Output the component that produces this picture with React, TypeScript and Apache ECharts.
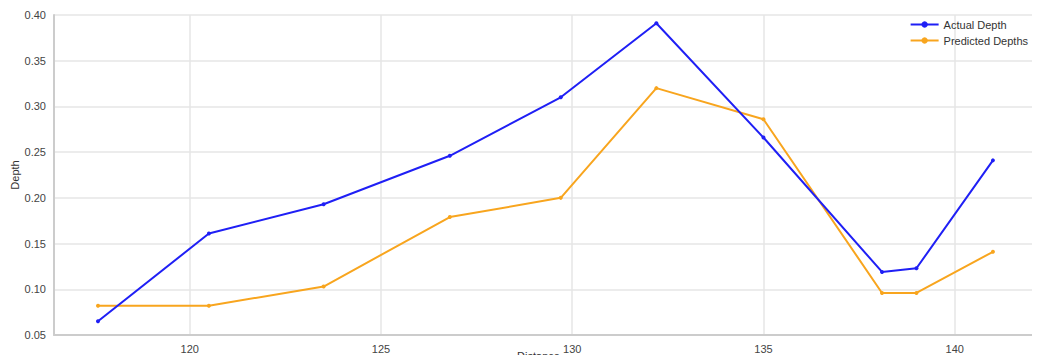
import React, { useEffect, useRef } from "react";
import * as echarts from "echarts";

const distances = [117.6, 120.5, 123.5, 126.8, 129.7, 132.2, 135.0, 138.1, 139.0, 141.0];
const actualDepth = [0.065, 0.161, 0.193, 0.246, 0.31, 0.391, 0.266, 0.119, 0.123, 0.241];
const predictedDepths = [0.082, 0.082, 0.103, 0.179, 0.2, 0.32, 0.286, 0.096, 0.096, 0.141];

const seriesNames = ["Actual Depth", "Predicted Depths"];
const seriesColors = ["#1f1ff5", "#f8a51e"];

export default function App() {
  const ref = useRef<HTMLDivElement>(null);
  useEffect(() => {
    if (!ref.current) return;
    const chart = echarts.init(ref.current, undefined, { renderer: "svg" });
    const toPairs = (ys: number[]) => distances.map((x, i) => [x, ys[i]]);
    const font = "Liberation Sans, Arial, sans-serif";
    chart.setOption({
      animation: false,
      backgroundColor: "#ffffff",
      textStyle: { fontFamily: font },
      graphic: {
        elements: [
          {
            type: "rect",
            x: 0,
            y: 3,
            shape: { x: 0, y: 0, width: 1040, height: 2 },
            style: { fill: "#8fa4c4" },
            z: 100,
          },
        ],
      },
      grid: { left: 54, right: 5, top: 15, bottom: 28, outerBoundsMode: "none", containLabel: false },
      legend: {
        orient: "vertical",
        right: 7,
        top: 14,
        itemWidth: 28,
        itemHeight: 8,
        itemGap: 5,
        textStyle: { fontSize: 11, color: "#333", fontFamily: font },
        data: seriesNames,
      },
      xAxis: {
        type: "value",
        min: 116.45,
        max: 142.1,
        splitNumber: 5,
        name: "Distance",
        nameLocation: "middle",
        nameGap: 15,
        nameMoveOverlap: false,
        nameTextStyle: { fontSize: 11, color: "#333", padding: [0, 12, 0, 0] },
        axisLine: { show: true, lineStyle: { color: "#cccccc", width: 2 } },
        axisTick: { show: false },
        axisLabel: {
          fontSize: 11,
          color: "#444",
          showMinLabel: false,
          showMaxLabel: false,
          formatter: (v: number) => (Math.abs(v % 5) < 1e-6 ? String(v) : ""),
        },
        splitLine: { show: true, lineStyle: { color: "#e6e6e6", width: 1.5 } },
      },
      yAxis: {
        type: "value",
        min: 0.05,
        max: 0.4,
        interval: 0.05,
        name: "Depth",
        nameLocation: "middle",
        nameGap: 34,
        nameRotate: 90,
        nameMoveOverlap: false,
        nameTextStyle: { fontSize: 11, color: "#333" },
        axisLine: { show: true, lineStyle: { color: "#cccccc", width: 2 } },
        axisTick: { show: false },
        axisLabel: {
          fontSize: 11,
          color: "#444",
          formatter: (v: number) => v.toFixed(2),
        },
        splitLine: { show: true, lineStyle: { color: "#e6e6e6", width: 1.5 } },
      },
      series: [
        {
          name: seriesNames[0],
          type: "line",
          data: toPairs(actualDepth),
          color: seriesColors[0],
          symbol: "circle",
          symbolSize: 4,
          lineStyle: { width: 2 },
          z: 3,
        },
        {
          name: seriesNames[1],
          type: "line",
          data: toPairs(predictedDepths),
          color: seriesColors[1],
          symbol: "circle",
          symbolSize: 4,
          lineStyle: { width: 2 },
          z: 2,
        },
      ],
    });
    return () => chart.dispose();
  }, []);
  return <div ref={ref} style={{ width: 1040, height: 363, margin: -8 }} />;
}
